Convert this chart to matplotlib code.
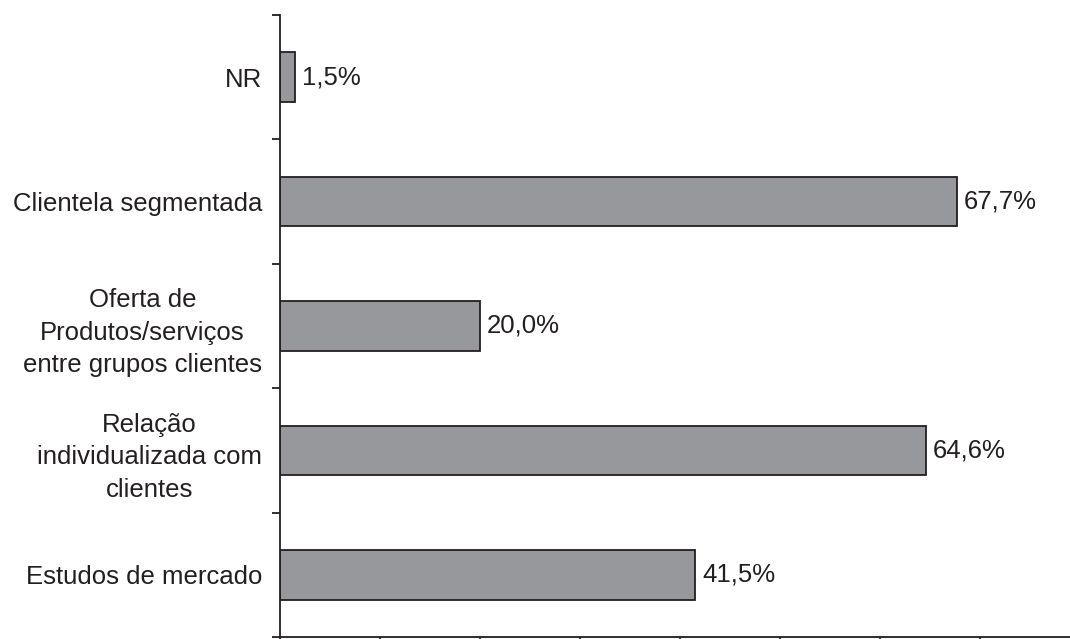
import matplotlib
matplotlib.use("Agg")
import matplotlib.pyplot as plt
import numpy as np

categories = ["Estudos de mercado",
              "Relação\nindividualizada com\nclientes",
              "Oferta de\nProdutos/serviços\nentre grupos clientes",
              "Clientela segmentada",
              "NR"]
values = [41.5, 64.6, 20.0, 67.7, 1.5]
value_labels = ["41,5%", "64,6%", "20,0%", "67,7%", "1,5%"]

plt.rcParams['font.family'] = ['Liberation Sans', 'DejaVu Sans']

W, H = 1070, 639
fig = plt.figure(figsize=(W/100, H/100), dpi=100)
left, right, top, bottom = 280, 1070, 15, 637
ax = fig.add_axes([left/W, (H-bottom)/H, (right-left)/W, (bottom-top)/H])

y = np.arange(len(categories))
ax.barh(y, values, height=0.4, color="#97989c", edgecolor="#231f20", linewidth=1.3, zorder=2)
for yi, v, lab in zip(y, values, value_labels):
    ax.annotate(lab, (v, yi), xytext=(5, 0), textcoords="offset points",
                ha="left", va="center", fontsize=18.5, color="#231f20")

ax.set_xlim(0, 79)
ax.set_ylim(-0.5, len(categories)-0.5)
ax.set_xticks(np.arange(0, 80, 10))
ax.set_xticklabels([])
ax.set_yticks(y)
ax.set_yticklabels(categories, fontsize=18.5, color="#231f20", linespacing=1.45,
                   multialignment="center")
ax.set_yticks(np.arange(-0.5, len(categories), 1), minor=True)
ax.tick_params(axis="y", which="major", length=0, pad=13)
ax.tick_params(axis="y", which="minor", length=6, width=1.3, direction="out", color="#231f20")
ax.tick_params(axis="x", which="major", length=8, width=1.3, direction="out", color="#231f20")
for s in ["top", "right"]:
    ax.spines[s].set_visible(False)
for s in ["left", "bottom"]:
    ax.spines[s].set_linewidth(1.3)
    ax.spines[s].set_color("#231f20")

fig.savefig("out.png", dpi=100)
